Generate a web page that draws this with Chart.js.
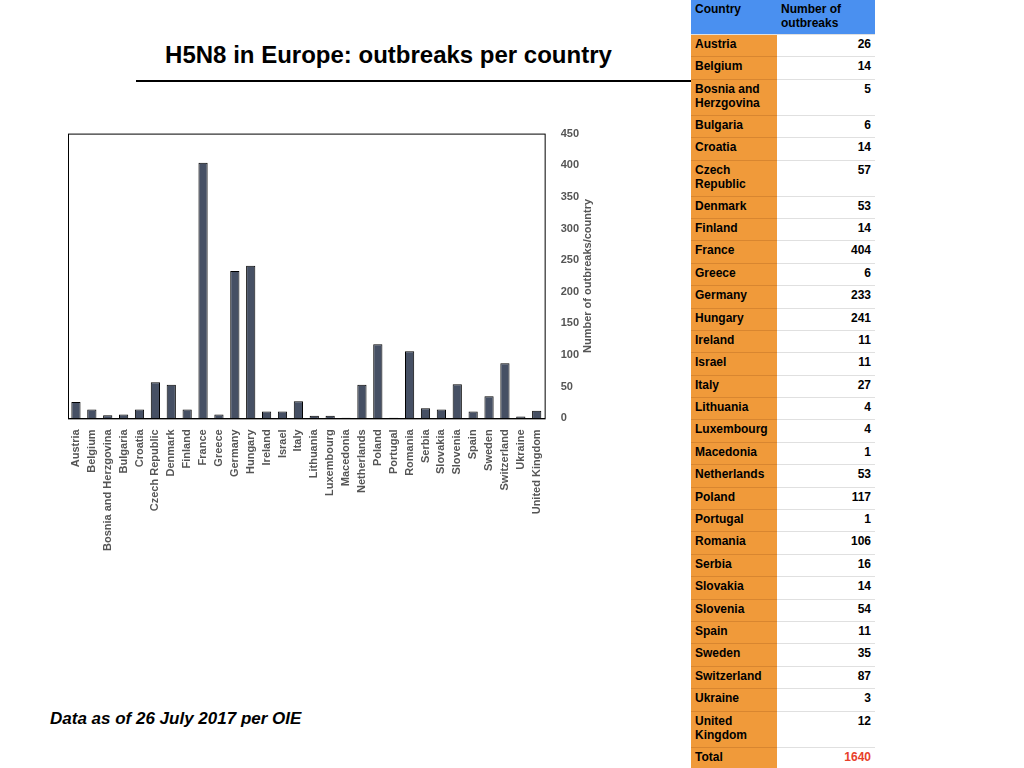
<!DOCTYPE html>
<html>
<head>
<meta charset="utf-8">
<script src="https://cdn.jsdelivr.net/npm/chart.js@4"></script>
<style>
  body { margin: 0; width: 1024px; height: 768px; background: #fff; font-family: "Liberation Sans", Arial, sans-serif; position: relative; overflow: hidden; }
  #title { position: absolute; left: 116px; top: 41px; width: 545px; text-align: center; font-weight: bold; font-size: 24px; }
  #rule { position: absolute; left: 136px; top: 80px; width: 555px; border-top: 2px solid #000; }
  #note { position: absolute; left: 50px; top: 709px; font-weight: bold; font-style: italic; font-size: 17px; }
  #chartBox { position: absolute; left: 60px; top: 119px; }
  #tbl { position: absolute; left: 691px; top: 0; width: 184px; border-collapse: collapse; font-size: 12px; font-weight: bold; line-height: 14px; }
  #tbl td, #tbl th { padding: 2px 4px; vertical-align: top; border-bottom: 1px solid #e0e0e0; }
  #tbl th { background: #4a90f0; text-align: left; height: 30px; font-size: 12px; }
  #tbl td.c { background: #f09a3a; width: 78px; border-bottom: 1px solid #d88630; }
  #tbl td.v { text-align: right; width: 90px; }
  #tbl tr.s td { height: 17.4px; }
  #tbl tr.d td { height: 31px; }
</style>
</head>
<body>
<div id="title">H5N8 in Europe: outbreaks per country</div>
<div id="rule"></div>
<div id="chartBox"><canvas id="myChart" width="565" height="435"></canvas></div>
<table id="tbl"><thead><tr><th>Country</th><th>Number of<br>outbreaks</th></tr></thead><tbody id="tbody"></tbody></table>
<div id="note">Data as of 26 July 2017 per OIE</div>
<script>
const countries = ["Austria", "Belgium", "Bosnia and Herzgovina", "Bulgaria", "Croatia", "Czech Republic", "Denmark", "Finland", "France", "Greece", "Germany", "Hungary", "Ireland", "Israel", "Italy", "Lithuania", "Luxembourg", "Macedonia", "Netherlands", "Poland", "Portugal", "Romania", "Serbia", "Slovakia", "Slovenia", "Spain", "Sweden", "Switzerland", "Ukraine", "United Kingdom"];
const outbreaks = [26, 14, 5, 6, 14, 57, 53, 14, 404, 6, 233, 241, 11, 11, 27, 4, 4, 1, 53, 117, 1, 106, 16, 14, 54, 11, 35, 87, 3, 12];
const tableNames = {"Bosnia and Herzgovina": "Bosnia and<br>Herzgovina", "Czech Republic": "Czech<br>Republic", "United Kingdom": "United<br>Kingdom"};
const yTitle = "Number of outbreaks/country";

const tbody = document.getElementById("tbody");
countries.forEach((name, i) => {
  const tr = document.createElement("tr");
  tr.className = tableNames[name] ? "d" : "s";
  tr.innerHTML = `<td class="c">${tableNames[name] || name}</td><td class="v">${outbreaks[i]}</td>`;
  tbody.appendChild(tr);
});
const total = outbreaks.reduce((a, b) => a + b, 0);
const tr = document.createElement("tr");
tr.className = "s";
tr.innerHTML = `<td class="c">Total</td><td class="v" style="color:#e8402a">${total}</td>`;
tbody.appendChild(tr);

const axisFont = { family: "Liberation Sans", size: 11, weight: "bold" };
const ctx = document.getElementById("myChart");
new Chart(ctx, {
  type: "bar",
  data: {
    labels: countries,
    datasets: [{
      data: outbreaks,
      backgroundColor: "#465064",
      borderColor: "#000",
      borderWidth: 1,
      barPercentage: 0.58,
      categoryPercentage: 1,
    }],
  },
  options: {
    responsive: false,
    animation: false,
    layout: { padding: { left: 8, top: 4, right: 38 } },
    plugins: { legend: { display: false }, tooltip: { enabled: false } },
    scales: {
      x: {
        grid: { display: false },
        border: { color: "#000" },
        ticks: { autoSkip: false, maxRotation: 90, minRotation: 90, color: "#555", font: axisFont },
      },
      y: {
        position: "right",
        min: 0,
        max: 450,
        ticks: { stepSize: 50, color: "#555", padding: 8, font: axisFont },
        grid: { display: false },
        border: { display: false },
      },
    },
  },
  plugins: [{
    id: "frame",
    afterDraw(chart) {
      const { ctx, chartArea: a } = chart;
      ctx.save();
      ctx.strokeStyle = "#000";
      ctx.lineWidth = 1;
      ctx.strokeRect(a.left + 0.5, a.top + 0.5, a.right - a.left, a.bottom - a.top);
      // y-axis title reads bottom to top
      ctx.translate(a.right + 43, (a.top + a.bottom) / 2);
      ctx.rotate(-Math.PI / 2);
      ctx.fillStyle = "#555";
      ctx.font = "bold 11px 'Liberation Sans'";
      ctx.textAlign = "center";
      ctx.textBaseline = "middle";
      ctx.fillText(yTitle, 0, 0);
      ctx.restore();
    },
  }],
});
</script>
</body>
</html>
